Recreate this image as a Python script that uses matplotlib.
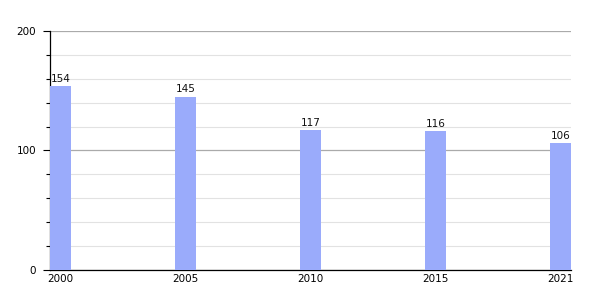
import matplotlib.pyplot as plt
from matplotlib.ticker import MultipleLocator

years = ['2000', '2005', '2010', '2015', '2021']
values = [154, 145, 117, 116, 106]

fig = plt.figure(figsize=(6, 3), dpi=100)
ax = fig.add_axes([0.0833, 0.1, 0.869, 0.797])

x = range(len(years))
bars = ax.bar(x, values, width=0.165, color='#9aabfb', zorder=3)
for xi, v in zip(x, values):
    ax.text(xi, v + 2, str(v), ha='center', va='bottom', fontsize=7.5, color='#111111', zorder=4)

ax.set_xlim(-0.085, 4.085)
ax.set_ylim(0, 200)
ax.set_xticks(list(x))
ax.set_xticklabels(years)
ax.yaxis.set_major_locator(MultipleLocator(100))
ax.yaxis.set_minor_locator(MultipleLocator(20))
ax.grid(axis='y', which='major', color='#aaaaaa', linewidth=0.9, zorder=1)
ax.grid(axis='y', which='minor', color='#e2e2e2', linewidth=0.8, zorder=1)
ax.tick_params(axis='y', which='major', length=5, width=0.8, labelsize=7.5, pad=5)
ax.tick_params(axis='y', which='minor', length=3, width=0.8)
ax.tick_params(axis='x', length=0, labelsize=7.5, pad=3)
for lbl in ax.get_xticklabels():
    lbl.set_x(lbl.get_position()[0])
ax.spines['top'].set_visible(False)
ax.spines['right'].set_visible(False)
ax.spines['left'].set_linewidth(0.9)
ax.spines['bottom'].set_linewidth(0.9)

fig.savefig('out.png', dpi=100)
